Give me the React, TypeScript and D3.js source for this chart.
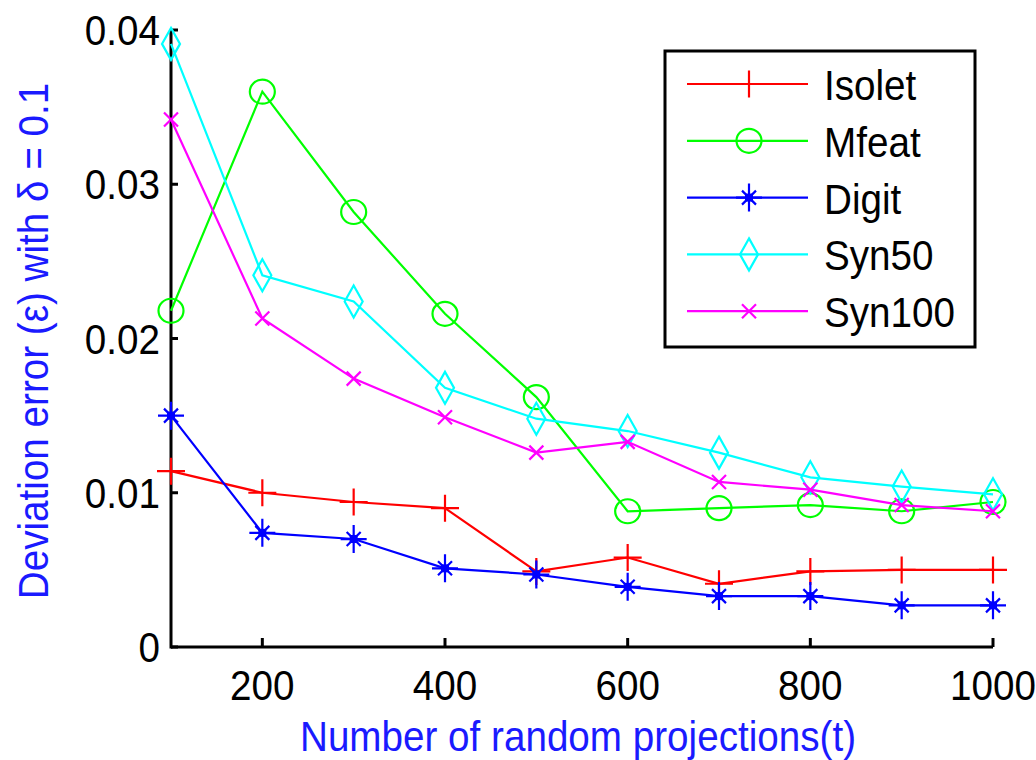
import React from 'react'
import * as d3 from 'd3'

const xValues = [100, 200, 300, 400, 500, 600, 700, 800, 900, 1000]
const isolet = [0.0114, 0.0100, 0.0094, 0.0090, 0.0049, 0.0058, 0.0041, 0.0049, 0.0050, 0.0050]
const mfeat = [0.0218, 0.0360, 0.0282, 0.0216, 0.0162, 0.0088, 0.0090, 0.0092, 0.0088, 0.0094]
const digit = [0.0150, 0.0074, 0.0070, 0.0051, 0.0047, 0.0039, 0.0033, 0.0033, 0.0027, 0.0027]
const syn50 = [0.0391, 0.0241, 0.0224, 0.0168, 0.0148, 0.0140, 0.0126, 0.0110, 0.0104, 0.0099]
const syn100 = [0.0342, 0.0213, 0.0174, 0.0149, 0.0126, 0.0133, 0.0107, 0.0102, 0.0092, 0.0088]

const seriesNames = ['Isolet', 'Mfeat', 'Digit', 'Syn50', 'Syn100']
const seriesColors = ['#ff0000', '#00ff00', '#0000ff', '#00ffff', '#ff00ff']
const seriesMarkers = ['plus', 'circle', 'star', 'diamond', 'cross']
const xTicks = [200, 400, 600, 800, 1000]
const yTicks = [0, 0.01, 0.02, 0.03, 0.04]

const width = 1036
const height = 760
const font = '"Liberation Sans", Arial, sans-serif'
const sx = 0.92

const Marker = ({ kind, x, y, color }: { kind: string; x: number; y: number; color: string }) => {
  const t = `translate(${x},${y})`
  const common = { stroke: color, strokeWidth: 2.2, fill: 'none' }
  if (kind === 'plus') return <path transform={t} d="M-14,0H14M0,-13.5V13.5" {...common} />
  if (kind === 'circle') return <ellipse transform={t} rx={12.5} ry={12} {...common} />
  if (kind === 'star')
    return (
      <g transform={t}>
        <path d="M-13,0H13M0,-14V14M-7,-7L7,7M-7,7L7,-7" {...common} />
        <rect x={-4} y={-4} width={8} height={8} fill={color} />
      </g>
    )
  if (kind === 'diamond') return <path transform={t} d="M0,-16L9,0L0,16L-9,0Z" {...common} />
  return <path transform={t} d="M-7,-7L7,7M-7,7L7,-7" {...common} />
}

const Txt = ({ x, y, anchor, color = '#000', children, rotate = 0 }: any) => (
  <text
    transform={`translate(${x},${y}) rotate(${rotate}) scale(${sx},1)`}
    textAnchor={anchor}
    fill={color}
    fontFamily={font}
    fontSize={42}
  >
    {children}
  </text>
)

export default function App() {
  const data = [isolet, mfeat, digit, syn50, syn100]
  const xScale = d3.scaleLinear().domain([100, 1000]).range([171, 993])
  const yScale = d3.scaleLinear().domain([0, 0.04]).range([647, 30])
  const line = d3
    .line<number>()
    .x((_, i) => xScale(xValues[i]))
    .y(d => yScale(d))

  const legendX = 665
  const legendY = 51
  const rowY = (i: number) => legendY + 33 + i * 56.8

  return (
    <svg width={width} height={height} style={{ position: 'absolute', left: 0, top: 0, background: '#fff' }}>
      <rect width={width} height={height} fill="#fff" />
      {/* axes */}
      <line x1={xScale(100)} x2={xScale(100)} y1={yScale(0.04)} y2={yScale(0) + 1.5} stroke="#000" strokeWidth={3} />
      <line x1={xScale(100)} x2={xScale(1000)} y1={yScale(0)} y2={yScale(0)} stroke="#000" strokeWidth={3} />
      {yTicks.map(v => (
        <g key={v}>
          <line x1={xScale(100)} x2={xScale(100) + 7} y1={yScale(v)} y2={yScale(v)} stroke="#000" strokeWidth={3} />
          <Txt x={160} y={yScale(v) + 15} anchor="end">
            {v === 0 ? '0' : d3.format('.2f')(v)}
          </Txt>
        </g>
      ))}
      {xTicks.map(v => (
        <g key={v}>
          <line x1={xScale(v)} x2={xScale(v)} y1={yScale(0)} y2={yScale(0) - 9} stroke="#000" strokeWidth={3} />
          <Txt x={xScale(v)} y={700} anchor="middle">
            {v}
          </Txt>
        </g>
      ))}
      <Txt x={578} y={751} anchor="middle" color="#1a1aff">
        Number of random projections(t)
      </Txt>
      <Txt x={48} y={341} anchor="middle" color="#1a1aff" rotate={-90}>
        Deviation error (ε) with δ = 0.1
      </Txt>

      {/* series */}
      {data.map((vals, s) => (
        <g key={seriesNames[s]}>
          <path d={line(vals) || ''} fill="none" stroke={seriesColors[s]} strokeWidth={2.2} />
          {vals.map((v, i) => (
            <Marker key={i} kind={seriesMarkers[s]} x={xScale(xValues[i])} y={yScale(v)} color={seriesColors[s]} />
          ))}
        </g>
      ))}

      {/* legend */}
      <rect x={legendX} y={legendY} width={310} height={296} fill="#fff" stroke="#000" strokeWidth={3} />
      {seriesNames.map((name, i) => (
        <g key={name}>
          <line x1={687} x2={808} y1={rowY(i)} y2={rowY(i)} stroke={seriesColors[i]} strokeWidth={2.2} />
          <Marker kind={seriesMarkers[i]} x={749} y={rowY(i)} color={seriesColors[i]} />
          <Txt x={824} y={rowY(i) + 16} anchor="start">
            {name}
          </Txt>
        </g>
      ))}
    </svg>
  )
}
